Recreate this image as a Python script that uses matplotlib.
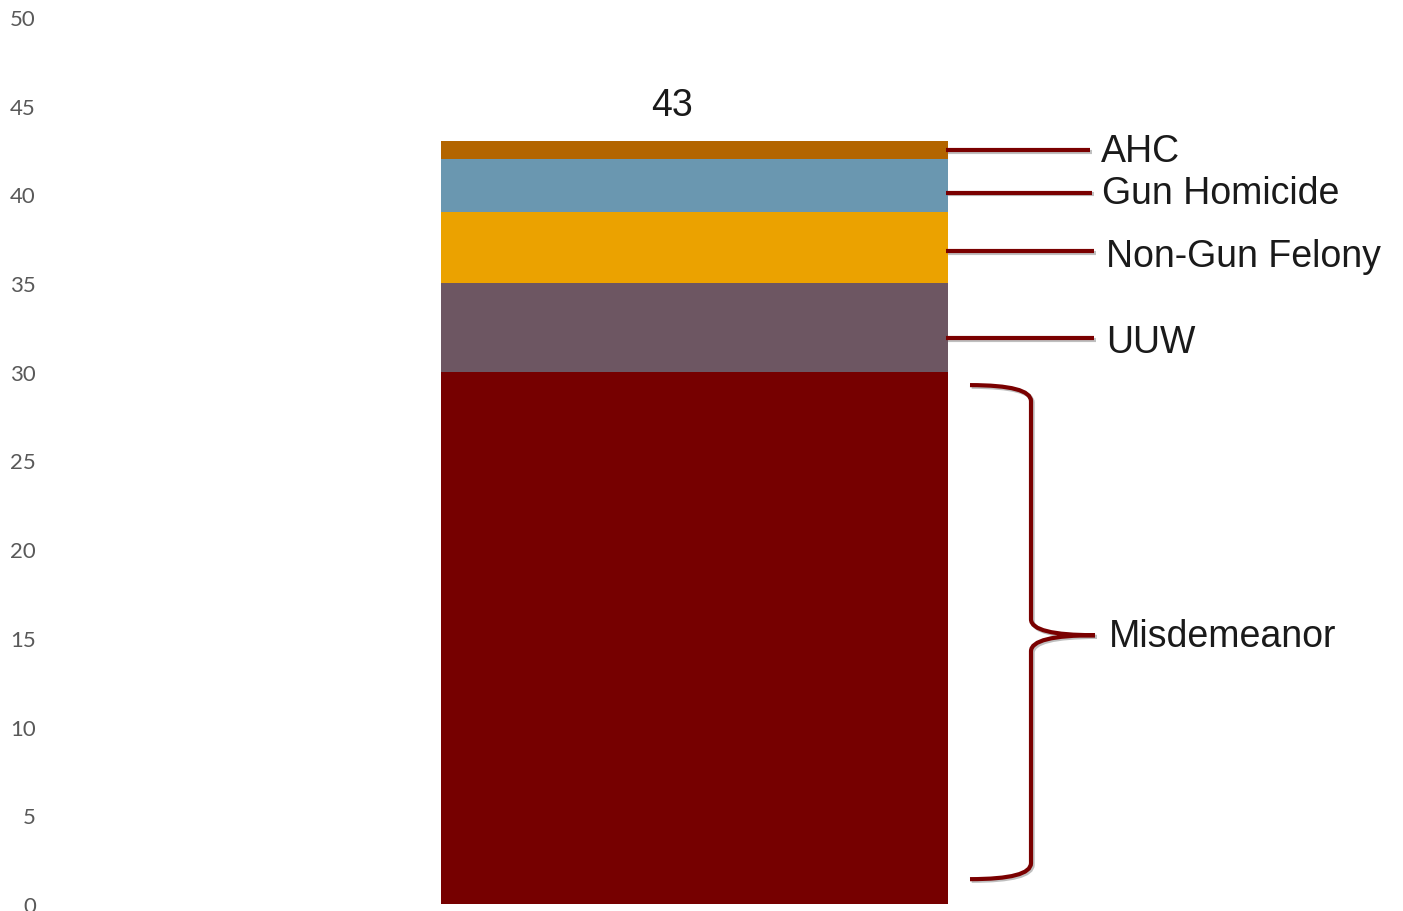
import matplotlib.pyplot as plt
import matplotlib.patheffects as pe
from matplotlib.path import Path
from matplotlib.patches import PathPatch

# Stacked components, bottom to top
categories = ["Misdemeanor", "UUW", "Non-Gun Felony", "Gun Homicide", "AHC"]
values = [30, 5, 4, 3, 1]
colors = ["#760000", "#6d5662", "#eba200", "#6a97b0", "#b36500"]
yticks = [0, 5, 10, 15, 20, 25, 30, 35, 40, 45, 50]

# label placement (y in data units) for the leader lines
leader_y = {"AHC": 42.5, "Gun Homicide": 40.1, "Non-Gun Felony": 36.8, "UUW": 31.9}
label_y = {"AHC": 42.45, "Gun Homicide": 40.07, "Non-Gun Felony": 36.5, "UUW": 31.7}

W, H = 1403, 912
fig = plt.figure(figsize=(W / 100, H / 100), dpi=100)
ax = fig.add_axes([45 / W, 1 - 905 / H, 1 - 45 / W, (905 - 18) / H])

# x axis in screen-like units so the annotations are easy to place
bar_x, bar_w = 694.5, 507
ax.set_xlim(45, W)
ax.set_ylim(0, 50)

bottom = 0
for cat, val, col in zip(categories, values, colors):
    ax.bar(bar_x, val, width=bar_w, bottom=bottom, color=col, linewidth=0)
    bottom += val
total = sum(values)
ax.text(bar_x - 22, total + 1.45, f"{total}", ha="center", va="baseline",
        fontsize=27, family="Liberation Sans", color="#1a1a1a")

line_col = "#7a0000"
shadow = [pe.SimpleLineShadow(offset=(1.2, -1.2), alpha=0.25), pe.Normal()]
x_end = {"AHC": 1090, "Gun Homicide": 1092, "Non-Gun Felony": 1094, "UUW": 1094}
x_txt = {"AHC": 1101, "Gun Homicide": 1102, "Non-Gun Felony": 1106, "UUW": 1106}
for cat in ["AHC", "Gun Homicide", "Non-Gun Felony", "UUW"]:
    ax.plot([946, x_end[cat]], [leader_y[cat]] * 2, color=line_col, lw=3,
            solid_capstyle="butt", path_effects=shadow)
    ax.text(x_txt[cat], label_y[cat], cat, ha="left", va="center",
            fontsize=27, family="Liberation Sans", color="#1a1a1a")

# curly brace for the misdemeanor block
x0, xv, xt = 970, 1031, 1095
y_top, y_bot, y_mid = 29.25, 1.4, 15.15
dy = 0.9
verts = [
    (x0, y_top), (xv, y_top), (xv, y_top - dy),
    (xv, y_mid + dy),
    (xv, y_mid), (xt, y_mid),
    (xv, y_mid), (xv, y_mid - dy),
    (xv, y_bot + dy),
    (xv, y_bot), (x0, y_bot),
]
codes = [Path.MOVETO, Path.CURVE3, Path.CURVE3, Path.LINETO,
         Path.CURVE3, Path.CURVE3, Path.CURVE3, Path.CURVE3,
         Path.LINETO, Path.CURVE3, Path.CURVE3]
ax.add_patch(PathPatch(Path(verts, codes), facecolor="none", edgecolor=line_col,
                       lw=3, path_effects=shadow))
ax.text(1109, 15.08, "Misdemeanor", ha="left", va="center",
        fontsize=27, family="Liberation Sans", color="#1a1a1a")

ax.set_yticks(yticks)
ax.set_xticks([])
ax.tick_params(axis="y", length=0, pad=6.5, labelsize=16, labelcolor="#595959")
for lab in ax.get_yticklabels():
    lab.set_family("Lato")
for s in ax.spines.values():
    s.set_visible(False)

fig.savefig("out.png", dpi=100)
